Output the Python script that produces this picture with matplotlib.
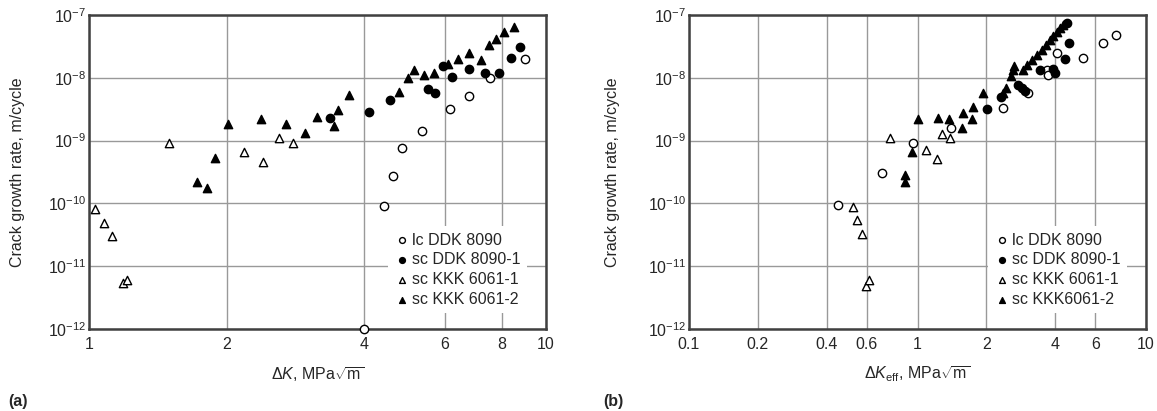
import numpy as np
import matplotlib.pyplot as plt
from matplotlib.ticker import FixedLocator, FixedFormatter, NullLocator

plt.rcParams['font.family'] = ['Liberation Sans', 'DejaVu Sans']
plt.rcParams['mathtext.fontset'] = 'custom'
plt.rcParams['mathtext.rm'] = 'Liberation Sans'
plt.rcParams['mathtext.it'] = 'Liberation Sans:italic'
plt.rcParams['mathtext.bf'] = 'Liberation Sans:bold'

# ---- panel (a): da/dN vs delta K ----
a_lc_x = [4.0, 4.41, 4.63, 4.85, 5.35, 6.18, 6.80, 7.53, 9.01]
a_lc_y = [1.0e-12, 9.1e-11, 2.73e-10, 7.6e-10, 1.42e-9, 3.2e-9, 5.1e-9, 9.9e-9, 2.0e-8]

a_sc1_x = [3.36, 4.09, 4.56, 5.52, 5.72, 5.95, 6.22, 6.77, 7.34, 7.89, 8.40, 8.78]
a_sc1_y = [2.3e-9, 2.85e-9, 4.4e-9, 6.6e-9, 5.7e-9, 1.54e-8, 1.03e-8, 1.38e-8, 1.19e-8,
           1.19e-8, 2.07e-8, 3.1e-8]

a_k1_x = [1.032, 1.076, 1.121, 1.188, 1.213, 1.494, 2.18, 2.40, 2.61, 2.80]
a_k1_y = [8.1e-11, 4.9e-11, 3.0e-11, 5.4e-12, 6.0e-12, 9.2e-10, 6.6e-10, 4.6e-10, 1.1e-9, 9.2e-10]

a_k2_x = [1.719, 1.81, 1.89, 2.01, 2.38, 2.70, 2.97, 3.15, 3.43, 3.50, 3.70, 4.76, 4.99,
          5.13, 5.42, 5.69, 6.09, 6.43, 6.80, 7.20, 7.49, 7.79, 8.08, 8.49]
a_k2_y = [2.2e-10, 1.76e-10, 5.3e-10, 1.84e-9, 2.2e-9, 1.84e-9, 1.32e-9, 2.4e-9, 1.7e-9,
          3.07e-9, 5.3e-9, 5.9e-9, 9.9e-9, 1.33e-8, 1.11e-8, 1.19e-8, 1.66e-8, 2.0e-8,
          2.48e-8, 1.92e-8, 3.3e-8, 4.15e-8, 5.4e-8, 6.4e-8]

# ---- panel (b): da/dN vs delta K_eff ----
b_lc_x = [0.449, 0.699, 0.955, 1.402, 2.367, 3.045, 3.687, 3.725, 4.08, 5.30, 6.48, 7.39]
b_lc_y = [9.4e-11, 3.05e-10, 9.2e-10, 1.59e-9, 3.3e-9, 5.7e-9, 1.33e-8, 1.11e-8, 2.48e-8,
          2.07e-8, 3.58e-8, 4.8e-8]

b_sc1_x = [2.015, 2.319, 2.754, 2.866, 2.954, 3.436, 3.92, 4.0, 4.42, 4.60, 4.51]
b_sc1_y = [3.18e-9, 4.9e-9, 7.7e-9, 6.9e-9, 6.2e-9, 1.33e-8, 1.38e-8, 1.19e-8, 2.0e-8,
           3.58e-8, 7.46e-8]

b_k1_x = [0.522, 0.543, 0.571, 0.595, 0.613, 0.758, 1.089, 1.217, 1.28, 1.387]
b_k1_y = [8.8e-11, 5.4e-11, 3.3e-11, 4.8e-12, 6.0e-12, 1.1e-9, 7.1e-10, 5.1e-10, 1.27e-9, 1.1e-9]

b_k2_x = [0.882, 0.882, 0.946, 1.005, 1.23, 1.373, 1.566, 1.582, 1.732, 1.749, 1.935, 2.367,
          2.439, 2.565, 2.617, 2.644, 2.896, 3.015, 3.17, 3.334, 3.508, 3.65, 3.80, 3.92,
          4.08, 4.205, 4.334]
b_k2_y = [2.83e-10, 2.19e-10, 6.6e-10, 2.21e-9, 2.29e-9, 2.21e-9, 1.59e-9, 2.75e-9, 2.21e-9,
          3.43e-9, 5.7e-9, 5.7e-9, 6.9e-9, 1.07e-8, 1.33e-8, 1.54e-8, 1.33e-8, 1.6e-8,
          1.92e-8, 2.31e-8, 2.77e-8, 3.33e-8, 4.0e-8, 4.63e-8, 5.36e-8, 6.21e-8, 6.93e-8]

a_ticks = [1, 2, 4, 6, 8, 10]
a_ticklabels = ['1', '2', '4', '6', '8', '10']
b_ticks = [0.1, 0.2, 0.4, 0.6, 1, 2, 4, 6, 10]
b_ticklabels = ['0.1', '0.2', '0.4', '0.6', '1', '2', '4', '6', '10']
y_ticks = [1e-12, 1e-11, 1e-10, 1e-9, 1e-8, 1e-7]
y_ticklabels = ['$10^{-12}$', '$10^{-11}$', '$10^{-10}$', '$10^{-9}$', '$10^{-8}$', '$10^{-7}$']

labels_a = ['lc DDK 8090', 'sc DDK 8090-1', 'sc KKK 6061-1', 'sc KKK 6061-2']
labels_b = ['lc DDK 8090', 'sc DDK 8090-1', 'sc KKK 6061-1', 'sc KKK6061-2']

txt = '0.15'
fs = 11.5
fig = plt.figure(figsize=(11.57, 4.11), dpi=100)
W, H = 1157, 411


def panel(left_px, xs, ys, labels, xticks, xticklabels, xlim, xlabel, ylab_x):
    ax = fig.add_axes([left_px / W, 1 - 329 / H, 457 / W, 314 / H])
    ax.set_xscale('log')
    ax.set_yscale('log')
    ax.set_xlim(*xlim)
    ax.set_ylim(1e-12, 1e-7)
    ax.grid(True, color='0.6', lw=1.0, zorder=0)
    ax.set_axisbelow(True)
    styles = [dict(marker='o', facecolor='white', edgecolor='black'),
              dict(marker='o', facecolor='black', edgecolor='black'),
              dict(marker='^', facecolor='white', edgecolor='black'),
              dict(marker='^', facecolor='black', edgecolor='black')]
    for (x, y), st, lab in zip(zip(xs, ys), styles, labels):
        ax.scatter(x, y, s=36, linewidths=1.0, label=lab, clip_on=False, zorder=3, **st)
    ax.xaxis.set_major_locator(FixedLocator(xticks))
    ax.xaxis.set_major_formatter(FixedFormatter(xticklabels))
    ax.xaxis.set_minor_locator(NullLocator())
    ax.yaxis.set_major_locator(FixedLocator(y_ticks))
    ax.yaxis.set_major_formatter(FixedFormatter(y_ticklabels))
    ax.yaxis.set_minor_locator(NullLocator())
    ax.tick_params(length=0, labelsize=fs, colors=txt)
    ax.tick_params(axis='y', pad=2)
    ax.tick_params(axis='x', pad=6)
    for sp in ax.spines.values():
        sp.set_linewidth(1.8)
        sp.set_color('0.25')
    ax.set_xlabel(xlabel, fontsize=fs, color=txt, labelpad=9)
    ax.set_ylabel('Crack growth rate, m/cycle', fontsize=fs, color=txt)
    ax.yaxis.set_label_coords(ylab_x, 0.5)
    leg = ax.legend(loc='lower right', bbox_to_anchor=(0.958, 0.05), frameon=True,
                    fancybox=False, edgecolor='none', facecolor='white', framealpha=1,
                    fontsize=fs, handletextpad=0.1, labelspacing=0.3, borderpad=0.4,
                    markerscale=0.7, handlelength=1.0, borderaxespad=0)
    for t in leg.get_texts():
        t.set_color(txt)
    return ax


panel(89, [a_lc_x, a_sc1_x, a_k1_x, a_k2_x], [a_lc_y, a_sc1_y, a_k1_y, a_k2_y], labels_a,
      a_ticks, a_ticklabels, (1, 10), r'$\Delta K$, MPa$\sqrt{\mathrm{m}}$', -0.14)
panel(689, [b_lc_x, b_sc1_x, b_k1_x, b_k2_x], [b_lc_y, b_sc1_y, b_k1_y, b_k2_y], labels_b,
      b_ticks, b_ticklabels, (0.1, 10), r'$\Delta K_{\mathrm{eff}}$, MPa$\sqrt{\mathrm{m}}$', -0.15)

fig.text(8 / W, 1 - 401 / H, '(a)', fontsize=fs, fontweight='bold', color=txt, va='center')
fig.text(603 / W, 1 - 401 / H, '(b)', fontsize=fs, fontweight='bold', color=txt, va='center')

fig.savefig('out.png', dpi=100)
